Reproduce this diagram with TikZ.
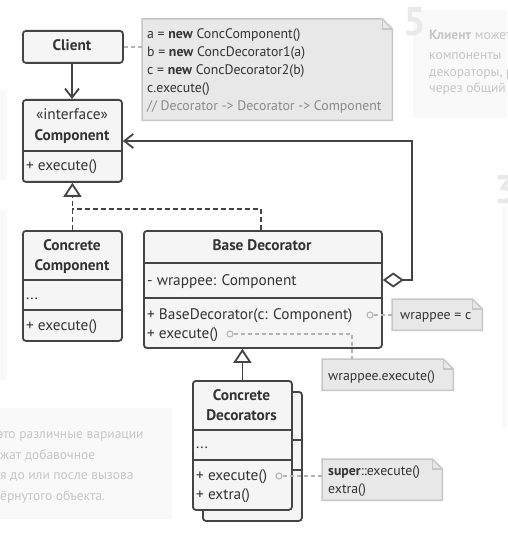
\documentclass[tikz,border=0pt]{standalone}
\usepackage{fontspec}
\setmainfont{PT Sans}
\usetikzlibrary{arrows.meta}
\definecolor{ink}{HTML}{333333}
\definecolor{edge}{HTML}{444444}
\definecolor{boxfill}{HTML}{F5F5F5}
\definecolor{notefill}{HTML}{E8E8E8}
\definecolor{noteedge}{HTML}{C6C6C6}
\definecolor{hint}{HTML}{B4B4B4}
\definecolor{comment}{HTML}{8A8A8A}
\definecolor{faint}{HTML}{F9F9F9}
\definecolor{faintnum}{HTML}{E9E9E9}
\definecolor{fainttext}{HTML}{C6C6C6}

% outline of a note with a folded top-right corner
\newcommand\foldnote[1]{%
  \filldraw[notebg] (#1.north west) -- ([xshift=-10pt]#1.north east)
    -- ([yshift=-10pt]#1.north east) -- (#1.south east) -- (#1.south west) -- cycle;
  \draw[notebg, fill=none] ([xshift=-10pt]#1.north east) |- ([yshift=-10pt]#1.north east);}

\begin{document}
\begin{tikzpicture}[x=1pt, y=-1pt,
  cls/.style={draw=edge, fill=boxfill, line width=1.8pt, rounded corners=3pt,
    inner sep=0pt, anchor=north west},
  txt/.style={inner sep=0pt, anchor=base west, text=ink,
    font=\fontsize{15.3}{18}\selectfont},
  ttl/.style={txt, anchor=base, font=\bfseries\fontsize{15.3}{18}\selectfont},
  rule/.style={draw=edge, line width=1.8pt},
  notebox/.style={inner sep=0pt, anchor=north west},
  notebg/.style={fill=notefill, draw=noteedge, line width=1.5pt, line join=miter},
  notetxt/.style={txt, font=\fontsize{13.8}{16}\selectfont},
  link/.style={draw=hint, line width=1.3pt, dash pattern=on 4pt off 3pt},
  dot/.style={circle, draw=hint, fill=boxfill, line width=1.1pt,
    minimum size=6pt, inner sep=0pt},
  assoc/.style={draw=edge, line width=1.8pt},
  barb/.style={-{Straight Barb[length=9pt,width=14pt]}},
  realize/.style={draw=edge, line width=1.8pt, dash pattern=on 5pt off 3pt},
  tri/.style={-{Triangle[open,length=14pt,width=18pt]}},
  bgpanel/.style={fill=faint, draw=none},
  bgnum/.style={inner sep=0pt, anchor=north west, text=faintnum,
    font=\bfseries\fontsize{40}{40}\selectfont},
  bgtxt/.style={inner sep=0pt, anchor=base west, text=fainttext,
    font=\fontsize{13.5}{16}\selectfont},
  bgtxtsmall/.style={bgtxt, font=\fontsize{13.5}{16}\selectfont}]

\useasboundingbox (0,0) rectangle (507,537);
\clip (0,0) rectangle (507,537);

% ---- surrounding panels
\path[bgpanel] (413,10) rectangle (507,118);
\node[bgnum] (num5) at (403,7) {5};
\node[bgtxt] (p1) at (429,40) {\textbf{Клиент} может};
\node[bgtxt] (p2) at (429,60) {компоненты};
\node[bgtxt] (p3) at (429,77) {декораторы, р};
\node[bgtxt] (p4) at (429,93) {через общий};

\path[bgpanel] (502,207) rectangle (507,427);
\node[bgnum] (num3) at (494,175) {3};

\path[bgpanel] (0,90) rectangle (7,180);
\path[bgpanel] (0,210) rectangle (7,380);

\path[bgpanel] (0,408) rectangle (172,519);
\node[bgtxtsmall] (q1) at (-3,438) {это различные вариации};
\node[bgtxtsmall] (q2) at (0,459) {жат добавочное};
\node[bgtxtsmall] (q3) at (0,479) {я до или после вызова};
\node[bgtxtsmall] (q4) at (0,500) {ёрнутого объекта.};

% ---- client and component interface
\node[cls, minimum width=100pt, minimum height=32pt] (client) at (22,30) {};
\node[ttl] (clientT) at (72,51) {Client};

\node[cls, minimum width=99pt, minimum height=82pt] (comp) at (22,99) {};
\draw[rule] (comp.west |- 0,151) -- (comp.east |- 0,151);
\node[txt, anchor=base] (compS) at (72,120) {«interface»};
\node[ttl] (compT) at (72,141) {Component};
\node[txt] (compM) at (26,171) {+ execute()};

% ---- concrete component
\node[cls, minimum width=99pt, minimum height=110pt] (cc) at (22,230) {};
\draw[rule] (cc.west |- 0,280) -- (cc.east |- 0,280);
\draw[rule] (cc.west |- 0,310) -- (cc.east |- 0,310);
\node[ttl] (ccT1) at (72,250) {Concrete};
\node[ttl] (ccT2) at (72,270) {Component};
\node[txt] (ccF) at (26,299) {...};
\node[txt] (ccM) at (26,330) {+ execute()};

% ---- base decorator
\node[cls, minimum width=238pt, minimum height=117pt] (bd) at (143,230) {};
\draw[rule] (bd.west |- 0,263) -- (bd.east |- 0,263);
\draw[rule] (bd.west |- 0,298) -- (bd.east |- 0,298);
\node[ttl] (bdT) at (262,250) {Base Decorator};
\node[txt] (bdF) at (147,285) {- wrappee: Component};
\node[txt] (bdM1) at (147,319) {+ BaseDecorator(c: Component)};
\node[txt] (bdM2) at (147,338) {+ execute()};

% ---- concrete decorators (stacked)
\node[cls, minimum width=99pt, minimum height=129pt] (cdback) at (202,391) {};
\draw[rule] (cdback.west |- 0,440) -- (cdback.east |- 0,440);
\draw[rule] (cdback.west |- 0,470) -- (cdback.east |- 0,470);
\node[cls, minimum width=99pt, minimum height=129pt] (cd) at (192,380) {};
\draw[rule] (cd.west |- 0,430) -- (cd.east |- 0,430);
\draw[rule] (cd.west |- 0,460) -- (cd.east |- 0,460);
\node[ttl] (cdT1) at (241.5,400) {Concrete};
\node[ttl] (cdT2) at (241.5,420) {Decorators};
\node[txt] (cdF) at (196,448) {...};
\node[txt] (cdM1) at (196,480) {+ execute()};
\node[txt] (cdM2) at (196,499) {+ extra()};

% ---- notes
\node[notebox, minimum width=250pt, minimum height=101pt] (n1) at (142,19) {};
\foldnote{n1}
\node[notetxt] (n1a) at (147,39) {a = \textbf{new} ConcComponent()};
\node[notetxt] (n1b) at (147,57) {b = \textbf{new} ConcDecorator1(a)};
\node[notetxt] (n1c) at (147,75) {c = \textbf{new} ConcDecorator2(b)};
\node[notetxt] (n1d) at (147,93) {c.execute()};
\node[notetxt, text=comment] (n1e) at (147,111) {// Decorator -> Decorator -> Component};

\node[notebox, minimum width=90pt, minimum height=31pt] (n2) at (392,299) {};
\foldnote{n2}
\node[notetxt] (n2a) at (400,319) {wrappee = c};

\node[notebox, minimum width=131pt, minimum height=31pt] (n3) at (322,359) {};
\foldnote{n3}
\node[notetxt] (n3a) at (328,380) {wrappee.execute()};

\node[notebox, minimum width=120pt, minimum height=41pt] (n4) at (322,459) {};
\foldnote{n4}
\node[notetxt] (n4a) at (328,475) {\textbf{super}::execute()};
\node[notetxt] (n4b) at (328,493) {extra()};

% ---- note links
\draw[link] (client.east) -- (client.east -| n1.west);
\node[dot] (d1) at (370,315) {};
\draw[link] (d1.east) -- (d1 -| n2.west);
\node[dot] (d2) at (230,334) {};
\coordinate (n3top) at (352,359);
\draw[link] (d2.east) -| (n3top);
\node[dot] (d3) at (279,476) {};
\draw[link] (d3.east) -- (d3 -| n4.west);

% ---- relations
\draw[assoc, barb] (client.south -| 72,0) -- (comp.north -| 72,0);

\coordinate (aggfrom) at (bd.east |- 0,280);
\coordinate (aggturn) at (412,141);
\draw[assoc, {Diamond[open,length=21pt,width=15pt]}-{Straight Barb[length=9pt,width=14pt]}]
  (aggfrom) -| (aggturn) -- (comp.east |- aggturn);

\coordinate (join) at (cc.north |- 0,209);
\coordinate (bdtop) at (261,230);
\draw[realize, tri] (cc.north) -- (comp.south);
\draw[realize] (bdtop) |- (join);

\draw[assoc, tri] (cd.north) -- (bd.south -| cd.north);
\end{tikzpicture}
\end{document}
